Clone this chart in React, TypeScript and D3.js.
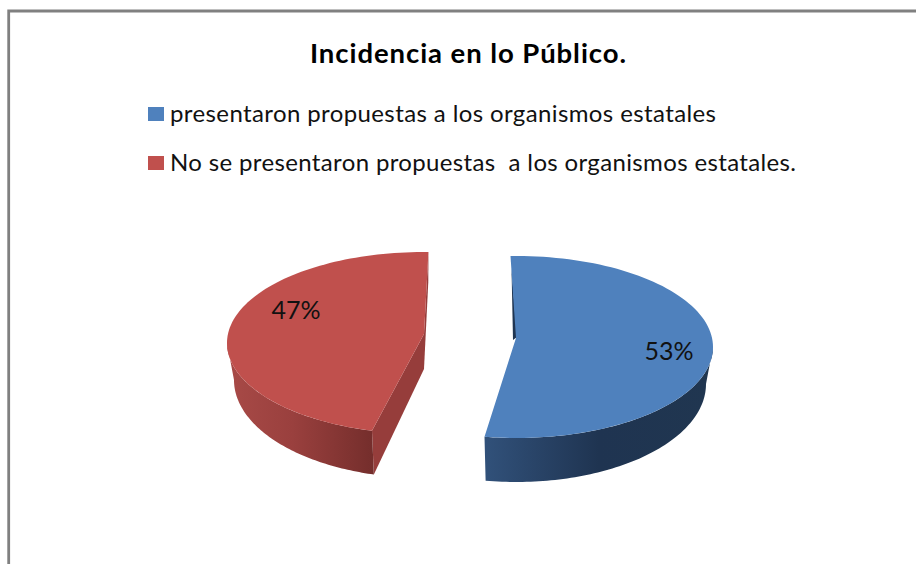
import React from "react";
import * as d3 from "d3";

const categories = [
  "presentaron propuestas a los organismos estatales",
  "No se presentaron propuestas  a los organismos estatales.",
];
const values = [53, 47];
const labels = ["53%", "47%"];
const title = "Incidencia en lo Público.";

const W = 916;
const H = 564;
const TOP = ["#4f81bd", "#c0504d"];
const SIDE = ["#1f3552", "#963d3b"];
const GRAD = [
  [["0%", "#31517a"], ["50%", "#1f3451"], ["100%", "#203650"]],
  [["0%", "#a84a47"], ["45%", "#9a403e"], ["100%", "#752e2c"]],
];
const CENTERS = [{ cx: 516, cy: 347 }, { cx: 424, cy: 343 }];
const SCREEN = [{ twist: 0, spread: 1 }, { twist: 4.5, spread: 0.981 }];
const LABEL_POS = [{ x: 669, y: 351 }, { x: 296, y: 310 }];
const RX = 197, RY = 91, RX2 = 190, RY2 = 98, DROP = 37, APEX = -9;

const rad = (d: number) => (d * Math.PI) / 180;
const pie = d3.pie<number>().sort(null).startAngle(rad(-1.6)).endAngle(rad(358.4));
const line = d3.line<[number, number]>();

export default function App() {
  const arcs = pie(values);
  const slices = arcs.map((a, i) => {
    const { cx, cy } = CENTERS[i];
    const mid = (a.startAngle + a.endAngle) / 2;
    const warp = (t: number) => mid + (t - mid) * SCREEN[i].spread + rad(SCREEN[i].twist);
    const s = warp(a.startAngle), e = warp(a.endAngle);
    const top = (t: number): [number, number] => [cx + RX * Math.sin(t), cy - RY * Math.cos(t)];
    const bot = (t: number): [number, number] => [cx + RX2 * Math.sin(t), cy + DROP - RY2 * Math.cos(t)];
    const apex: [number, number] = [cx, cy + APEX];
    const apexB: [number, number] = [cx, cy + APEX + DROP - 2];
    const samples = d3.range(0, 101).map((k) => s + ((e - s) * k) / 100);
    const surface = line([apex, ...samples.map(top)]) + "Z";
    const ws = Math.max(s, rad(90)), we = Math.min(e, rad(270));
    const wallS = d3.range(0, 81).map((k) => ws + ((we - ws) * k) / 80);
    const wall = line([...wallS.map(top), ...wallS.slice().reverse().map(bot)]) + "Z";
    const faces =
      i === 1
        ? [
            line([top(e), bot(e), apexB, apex]) + "Z",
            line([top(s), bot(s), apexB, apex]) + "Z",
          ]
        : [line([top(s), [top(s)[0] + 1, top(s)[1] + 12], [apex[0] - 3, apex[1] + 2], [apex[0] + 1, apex[1] - 1]]) + "Z"];
    return { surface, wall, faces, i, gradX: d3.extent(wallS.map((t) => top(t)[0])) as [number, number] };
  });

  const frameColor = "#808080";
  const font = "Lato, 'Open Sans', sans-serif";
  return (
    <svg width={W} height={H} viewBox={`0 0 ${W} ${H}`} style={{ position: "absolute", left: 0, top: 0, background: "#fff" }}>
      <defs>
        {slices.map((s) => (
          <linearGradient key={s.i} id={`wall${s.i}`} gradientUnits="userSpaceOnUse" x1={s.gradX[0]} x2={s.gradX[1]} y1={0} y2={0}>
            {GRAD[s.i].map(([o, c]) => <stop key={o} offset={o} stopColor={c} />)}
          </linearGradient>
        ))}
      </defs>
      <path d={`M8.7 564V11H916`} fill="none" stroke={frameColor} strokeWidth={2.8} />
      <text x={468} y={63} textAnchor="middle" fontFamily={font} fontWeight={700} fontSize={27.5} fill="#000" textLength={316} lengthAdjust="spacing">{title}</text>
      {categories.map((c, i) => (
        <g key={c}>
          <rect x={148} y={107 + i * 49} width={16} height={14} fill={TOP[i]} />
          <text x={170} y={122 + i * 49} fontFamily={font} fontSize={24} fill="#111" xmlSpace="preserve" style={{ whiteSpace: "pre" }} textLength={i === 0 ? 546 : 626} lengthAdjust="spacing">{c}</text>
        </g>
      ))}
      {slices.map((s) => (
        <g key={s.i}>
          {s.faces.map((f, k) => <path key={k} d={f} fill={SIDE[s.i]} />)}
          <path d={s.wall} fill={`url(#wall${s.i})`} />
          <path d={s.surface} fill={TOP[s.i]} />
          <text x={LABEL_POS[s.i].x} y={LABEL_POS[s.i].y} dy="0.35em" textAnchor="middle" fontFamily={font} fontSize={25} fill="#111">{labels[s.i]}</text>
        </g>
      ))}
    </svg>
  );
}
